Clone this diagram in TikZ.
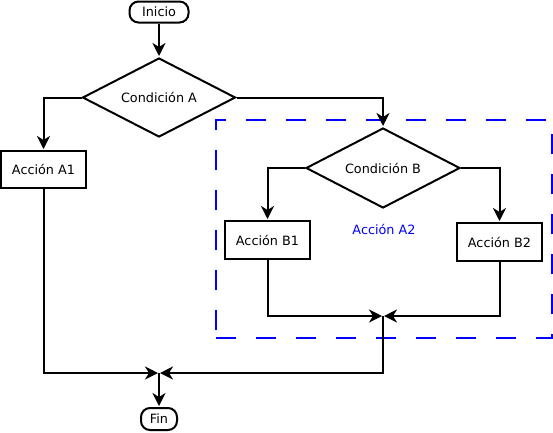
\documentclass[tikz,border=0pt]{standalone}
\usepackage{fontspec}
\setmainfont{DejaVu Sans}
\usetikzlibrary{shapes.geometric,arrows.meta}
\begin{document}
\begin{tikzpicture}[x=1pt,y=-1pt,
  font=\fontsize{12.8}{15}\selectfont,
  flow/.style={line width=2pt, -{Stealth[length=13pt,width=13pt,inset=4pt]}, shorten >=1pt},
  terminal/.style={draw, rounded corners=9pt, line width=2pt, inner sep=0pt, minimum width=59pt, minimum height=21pt},
  decision/.style={draw, diamond, shape aspect=2, line width=2pt, inner sep=0pt, minimum width=153pt, minimum height=79pt},
  action/.style={draw, rectangle, line width=2pt, inner sep=0pt, minimum width=85pt, minimum height=37pt},
  group/.style={draw=blue, text=blue, line width=2pt, dash pattern=on 20pt off 20pt, inner sep=0pt, minimum width=336pt, minimum height=218pt}]
\useasboundingbox (0,0) rectangle (553,432);
\node[group] (grp) at (384,229) {Acción A2};
\node[terminal] (ini) at (159,12) {Inicio};
\node[decision] (ca) at (159,97.5) {Condición A};
\node[action] (a1) at (43.5,169.5) {Acción A1};
\node[decision, minimum width=154pt, minimum height=80pt] (cb) at (383,168) {Condición B};
\node[action, minimum height=38pt] (b1) at (267.5,240) {Acción B1};
\node[action, minimum height=38pt] (b2) at (499.5,242) {Acción B2};
\node[terminal, minimum width=36pt, minimum height=22pt] (fin) at (159,419) {Fin};
\coordinate (m1) at (159,373);
\coordinate (m2) at (383,316);
\draw[flow] (ini) -- (ca);
\draw[flow] (ca.west) -| (a1.north);
\draw[flow] (ca.east) -| (cb.north);
\draw[flow] (cb.west) -| (b1.north);
\draw[flow] (cb.east) -| (b2.north);
\draw[flow] (b1.south) |- (m2);
\draw[flow] (b2.south) |- (m2);
\draw[flow] (a1.south) |- (m1);
\draw[flow] (m2) |- (m1);
\draw[flow] (m1) -- (fin);
\end{tikzpicture}
\end{document}
